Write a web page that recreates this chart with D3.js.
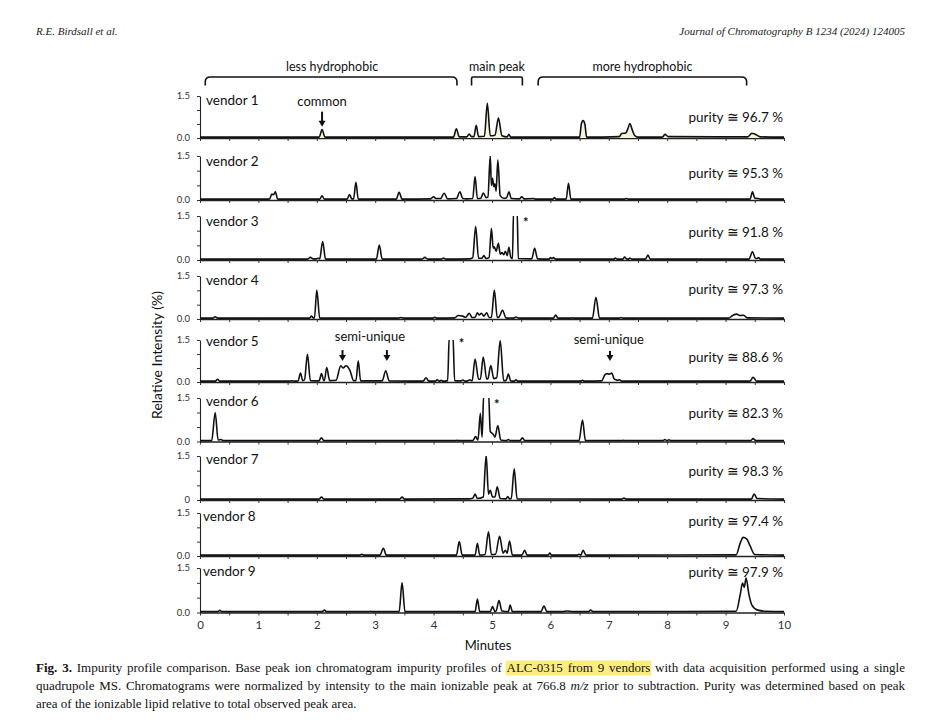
<!DOCTYPE html>
<html><head><meta charset="utf-8">
<script src="https://cdn.jsdelivr.net/npm/d3@7"></script>
<style>body{margin:0;background:#fff} svg{display:block}</style>
</head><body><svg id="c" width="931" height="720"></svg>
<script>
// ---------------- DATA ----------------
const vendors = ["vendor 1","vendor 2","vendor 3","vendor 4","vendor 5","vendor 6","vendor 7","vendor 8","vendor 9"];
const purity = ["96.7","95.3","91.8","97.3","88.6","82.3","98.3","97.4","97.9"];
const xTicks = [0,1,2,3,4,5,6,7,8,9,10];
const yTickVals = [0, 0.5, 1.0, 1.5];
const yBottomLabels = ["0.0","0.0","0.0","0.0","0.0","0.0","0","0.0","0.0"];
const yTopLabel = "1.5";
const regionLabels = ["less hydrophobic","main peak","more hydrophobic"];
const regionStart = [0.09, 4.65, 5.79];
const regionEnd = [4.40, 5.52, 9.36];

// chromatogram vertices [minutes, relative intensity]
const v1 = [[0,0.03],[2.04,0.03],[2.09,0.3],[2.14,0.03],[4.34,0.03],[4.39,0.33],[4.44,0.04],[4.57,0.04],[4.61,0.14],[4.65,0.05],[4.69,0.05],[4.73,0.45],[4.77,0.05],[4.87,0.06],[4.92,1.24],[4.97,0.08],[5.05,0.1],[5.11,0.71],[5.17,0.08],[5.26,0.04],[5.29,0.13],[5.32,0.03],[6.5,0.03],[6.53,0.5],[6.56,0.62],[6.59,0.5],[6.62,0.03],[7.18,0.05],[7.22,0.16],[7.29,0.18],[7.33,0.35],[7.36,0.52],[7.4,0.3],[7.44,0.1],[7.5,0.03],[7.92,0.03],[7.96,0.13],[8.02,0.05],[9.38,0.04],[9.45,0.17],[9.5,0.14],[9.6,0.04],[10,0.03]];
const v2 = [[0,0.03],[1.19,0.03],[1.23,0.2],[1.26,0.18],[1.29,0.28],[1.33,0.03],[2.05,0.03],[2.09,0.14],[2.13,0.03],[2.52,0.03],[2.56,0.19],[2.6,0.04],[2.63,0.04],[2.67,0.6],[2.71,0.03],[3.36,0.03],[3.41,0.26],[3.46,0.03],[3.95,0.04],[4.0,0.11],[4.04,0.05],[4.12,0.05],[4.18,0.23],[4.24,0.04],[4.39,0.05],[4.45,0.28],[4.5,0.05],[4.56,0.04],[4.67,0.05],[4.71,0.8],[4.75,0.05],[4.81,0.06],[4.85,0.24],[4.9,0.08],[4.93,0.1],[4.97,1.51],[4.99,0.5],[5.01,0.74],[5.03,0.45],[5.05,0.55],[5.07,0.3],[5.1,1.36],[5.14,0.15],[5.2,0.06],[5.25,0.08],[5.29,0.28],[5.33,0.05],[5.47,0.04],[5.51,0.11],[5.55,0.04],[5.71,0.05],[5.74,0.03],[6.04,0.03],[6.07,0.08],[6.1,0.03],[6.27,0.03],[6.31,0.57],[6.35,0.03],[7.27,0.03],[7.3,0.05],[7.33,0.03],[9.42,0.03],[9.46,0.28],[9.5,0.06],[9.55,0.05],[9.6,0.03],[10,0.03]];
const v3 = [[0,0.03],[1.84,0.03],[1.89,0.09],[1.94,0.04],[1.99,0.04],[2.02,0.06],[2.05,0.04],[2.1,0.63],[2.15,0.03],[3.02,0.03],[3.07,0.51],[3.12,0.03],[3.8,0.03],[3.85,0.09],[3.9,0.03],[4.13,0.03],[4.17,0.07],[4.21,0.03],[4.62,0.04],[4.67,0.08],[4.72,1.14],[4.77,0.06],[4.83,0.06],[4.86,0.15],[4.9,0.05],[4.95,0.08],[4.99,1.08],[5.02,0.4],[5.04,0.45],[5.07,0.3],[5.11,0.57],[5.14,0.2],[5.17,0.25],[5.2,0.18],[5.23,0.3],[5.26,0.15],[5.29,0.43],[5.32,0.1],[5.35,0.05],[5.37,1.7],[5.43,1.7],[5.45,0.05],[5.68,0.04],[5.73,0.4],[5.78,0.04],[5.98,0.03],[6.0,0.08],[6.03,0.05],[6.05,0.08],[6.09,0.03],[7.09,0.03],[7.11,0.07],[7.14,0.03],[7.24,0.03],[7.27,0.1],[7.31,0.03],[7.34,0.03],[7.36,0.07],[7.39,0.03],[7.63,0.03],[7.67,0.17],[7.71,0.03],[9.4,0.03],[9.46,0.28],[9.51,0.06],[9.54,0.05],[9.56,0.08],[9.6,0.03],[10,0.03]];
const v4 = [[0,0.03],[0.22,0.03],[0.26,0.08],[0.3,0.03],[1.87,0.03],[1.91,0.1],[1.94,0.04],[1.96,0.04],[2.0,1.01],[2.05,0.03],[3.4,0.03],[3.44,0.05],[3.48,0.03],[3.98,0.03],[4.02,0.06],[4.06,0.03],[4.36,0.04],[4.42,0.12],[4.5,0.1],[4.55,0.06],[4.61,0.2],[4.66,0.05],[4.71,0.06],[4.75,0.22],[4.78,0.14],[4.82,0.2],[4.86,0.1],[4.91,0.22],[4.95,0.05],[4.99,0.05],[5.04,1.01],[5.09,0.05],[5.12,0.07],[5.18,0.3],[5.24,0.04],[5.37,0.03],[5.41,0.07],[5.46,0.03],[6.05,0.03],[6.09,0.14],[6.13,0.03],[6.35,0.03],[6.38,0.04],[6.41,0.03],[6.72,0.03],[6.78,0.76],[6.84,0.03],[7.18,0.03],[7.21,0.05],[7.24,0.03],[9.05,0.03],[9.12,0.12],[9.19,0.17],[9.25,0.12],[9.31,0.13],[9.37,0.04],[10,0.03]];
const v5 = [[0,0.03],[0.26,0.03],[0.3,0.1],[0.34,0.03],[1.53,0.03],[1.57,0.04],[1.62,0.03],[1.68,0.04],[1.72,0.32],[1.76,0.05],[1.79,0.08],[1.84,0.99],[1.89,0.05],[2.04,0.04],[2.08,0.3],[2.12,0.05],[2.13,0.05],[2.17,0.52],[2.22,0.05],[2.33,0.06],[2.41,0.58],[2.45,0.5],[2.5,0.58],[2.57,0.4],[2.63,0.05],[2.67,0.05],[2.71,0.76],[2.75,0.04],[3.12,0.04],[3.18,0.4],[3.24,0.04],[3.82,0.03],[3.87,0.15],[3.92,0.03],[4.03,0.03],[4.06,0.08],[4.1,0.03],[4.13,0.06],[4.16,0.03],[4.24,0.05],[4.27,1.7],[4.33,1.7],[4.36,0.05],[4.47,0.04],[4.5,0.07],[4.54,0.03],[4.58,0.04],[4.62,0.08],[4.66,0.04],[4.71,0.82],[4.77,0.1],[4.8,0.1],[4.85,0.89],[4.91,0.1],[4.93,0.12],[4.98,0.59],[5.03,0.12],[5.08,0.15],[5.14,1.48],[5.2,0.05],[5.24,0.05],[5.28,0.28],[5.32,0.04],[5.38,0.03],[5.41,0.08],[5.44,0.03],[6.52,0.03],[6.55,0.06],[6.58,0.03],[6.88,0.04],[6.93,0.25],[6.97,0.3],[7.01,0.28],[7.05,0.32],[7.09,0.12],[7.12,0.08],[7.15,0.06],[7.18,0.08],[7.22,0.03],[9.42,0.03],[9.47,0.17],[9.53,0.03],[10,0.03]];
const v6 = [[0,0.03],[0.2,0.03],[0.26,1.0],[0.31,0.05],[0.36,0.07],[0.4,0.03],[2.04,0.03],[2.08,0.13],[2.12,0.03],[4.37,0.03],[4.4,0.04],[4.43,0.03],[4.67,0.03],[4.72,0.17],[4.76,0.05],[4.8,0.97],[4.83,0.15],[4.86,1.7],[4.94,1.7],[4.97,0.35],[5.02,0.25],[5.05,0.15],[5.1,0.55],[5.15,0.05],[5.25,0.03],[5.28,0.07],[5.31,0.03],[5.48,0.03],[5.52,0.13],[5.56,0.03],[6.49,0.03],[6.55,0.74],[6.6,0.03],[7.22,0.03],[7.25,0.04],[7.28,0.03],[7.93,0.03],[7.96,0.07],[7.99,0.03],[8.03,0.06],[8.06,0.03],[9.43,0.03],[9.47,0.1],[9.52,0.03],[10,0.03]];
const v7 = [[0,0.03],[2.04,0.03],[2.08,0.1],[2.12,0.03],[3.42,0.03],[3.46,0.1],[3.5,0.03],[4.6,0.04],[4.67,0.06],[4.71,0.2],[4.75,0.05],[4.85,0.1],[4.9,1.53],[4.94,0.2],[4.97,0.33],[5.01,0.1],[5.05,0.1],[5.09,0.45],[5.14,0.05],[5.24,0.04],[5.27,0.12],[5.3,0.04],[5.33,0.05],[5.38,1.06],[5.43,0.04],[7.22,0.03],[7.26,0.07],[7.3,0.03],[9.44,0.03],[9.49,0.2],[9.54,0.05],[10,0.03]];
const v8 = [[0,0.03],[2.73,0.03],[2.77,0.06],[2.81,0.03],[3.08,0.03],[3.14,0.27],[3.19,0.03],[4.39,0.03],[4.44,0.5],[4.49,0.03],[4.71,0.03],[4.75,0.44],[4.79,0.03],[4.88,0.05],[4.94,0.84],[4.99,0.05],[5.06,0.06],[5.13,0.69],[5.19,0.1],[5.23,0.2],[5.26,0.1],[5.3,0.52],[5.35,0.03],[5.51,0.03],[5.56,0.2],[5.6,0.03],[5.96,0.03],[5.99,0.1],[6.02,0.03],[6.46,0.03],[6.49,0.06],[6.52,0.03],[6.56,0.2],[6.61,0.03],[9.18,0.04],[9.25,0.45],[9.3,0.65],[9.36,0.6],[9.42,0.35],[9.5,0.05],[10,0.03]];
const v9 = [[0,0.03],[0.3,0.03],[0.34,0.07],[0.38,0.03],[2.09,0.03],[2.13,0.08],[2.17,0.03],[2.89,0.03],[2.92,0.04],[2.95,0.03],[3.41,0.03],[3.46,1.01],[3.51,0.03],[4.71,0.03],[4.75,0.45],[4.79,0.03],[4.97,0.03],[5.01,0.2],[5.05,0.03],[5.07,0.05],[5.12,0.4],[5.17,0.05],[5.28,0.03],[5.31,0.25],[5.35,0.03],[5.84,0.03],[5.89,0.22],[5.94,0.03],[6.2,0.03],[6.29,0.05],[6.38,0.03],[6.65,0.03],[6.69,0.08],[6.73,0.03],[9.18,0.04],[9.25,0.6],[9.29,0.99],[9.32,0.85],[9.35,1.16],[9.4,0.6],[9.45,0.25],[9.55,0.08],[9.7,0.04],[10,0.03]];
const traces = [v1,v2,v3,v4,v5,v6,v7,v8,v9];

// annotations: panel index, minutes, intensity
const arrowPanel = [0, 4, 4, 4];
const arrowTime = [2.09, 2.44, 3.20, 7.02];
const arrowTail = [0.94, 1.14, 1.14, 1.11];
const arrowTip = [0.40, 0.75, 0.75, 0.75];
const noteText = ["common", "semi-unique", "semi-unique"];
const notePanel = [0, 4, 4];
const noteTime = [2.09, 2.91, 7.0];
const noteValue = [1.30, 1.64, 1.52];
const starPanel = [2, 4, 5];
const starTime = [5.58, 4.48, 5.08];
const starValue = [1.43, 1.50, 1.42];

// ---------------- LAYOUT ----------------
const svg = d3.select("#c");
const X0 = 200, X1 = 784;
const panelTop = [96,156,216,276,340,398,456,513,568];
const panelBase = [138,200,260,319,382,441.5,500,556,612.5];
const vendorLabelX = [206,206,206,206,206,206,206,203,203];
const vendorLabelY = [100,161,221.7,280.7,341.7,401.7,459.3,516.7,571.7];
const purityY = [117,173,232,289,357,413,471,521,572];
const FONT = "Lato, 'Open Sans', sans-serif";
const SERIF = "'Liberation Serif', 'DejaVu Serif', serif";

const x = d3.scaleLinear().domain([0,10]).range([X0, X1]);
const ys = panelTop.map((t,i) => d3.scaleLinear().domain([0,1.5]).range([panelBase[i], t]));

// header
svg.append("text").attr("x",36).attr("y",35).attr("font-family",SERIF).attr("font-style","italic")
  .attr("font-size",11).attr("fill","#222").text("R.E. Birdsall et al.");
svg.append("text").attr("x",905).attr("y",35).attr("text-anchor","end").attr("font-family",SERIF).attr("font-style","italic")
  .attr("font-size",11).attr("fill","#222").text("Journal of Chromatography B 1234 (2024) 124005");

// brackets
const defs = svg.append("defs");
regionLabels.forEach((lab,i) => {
  const a = x(regionStart[i]), b = x(regionEnd[i]);
  const yTop = 77, yBot = 85.5, r = i===1 ? 1.5 : 5;
  svg.append("path")
    .attr("d", `M${a},${yBot} L${a},${yTop+r} Q${a},${yTop} ${a+r},${yTop} L${b-r},${yTop} Q${b},${yTop} ${b},${yTop+r} L${b},${yBot}`)
    .attr("fill","none").attr("stroke","#111").attr("stroke-width",1.6);
  svg.append("text").attr("x",(a+b)/2 + (i===0?1:0)).attr("y",70.5).attr("text-anchor","middle")
    .attr("font-family",FONT).attr("font-size",12.5).attr("fill","#111").text(lab);
});

// panels
traces.forEach((tr,i) => {
  const y = ys[i];
  const g = svg.append("g");
  defs.append("clipPath").attr("id","clip"+i).append("rect")
    .attr("x",X0-1).attr("y",panelTop[i]).attr("width",X1-X0+2).attr("height",panelBase[i]-panelTop[i]+4);
  // x axis
  const xa = d3.axisBottom(x).tickValues(d3.range(0,10.01,0.5)).tickSize(3).tickSizeOuter(0)
    .tickFormat(i===8 ? (d => xTicks.includes(d) ? d : "") : "");
  const ax = g.append("g").attr("transform",`translate(0,${panelBase[i]})`).call(xa);
  ax.select(".domain").attr("stroke","#222").attr("stroke-width",1.4);
  ax.selectAll(".tick line").attr("stroke","#333").attr("stroke-width",1);
  ax.selectAll(".tick text").attr("font-family",FONT).attr("font-size",11.5).attr("fill","#333").attr("dy","0.95em");
  // y axis
  const ya = d3.axisLeft(y).tickValues(yTickVals).tickSize(3).tickSizeOuter(0).tickFormat("");
  const ay = g.append("g").attr("transform",`translate(${X0},0)`).call(ya);
  ay.select(".domain").attr("stroke","#222").attr("stroke-width",1.1);
  ay.selectAll(".tick line").attr("stroke","#333").attr("stroke-width",1);
  g.append("text").attr("x",190).attr("y",y(1.5)).attr("dy","0.35em").attr("text-anchor","end")
    .attr("font-family",FONT).attr("font-size",9.5).attr("fill","#333").text(yTopLabel);
  g.append("text").attr("x",190).attr("y",y(0)).attr("dy","0.35em").attr("text-anchor","end")
    .attr("font-family",FONT).attr("font-size",9.5).attr("fill","#333").text(yBottomLabels[i]);
  // trace
  if (i===0) {
    g.append("path").datum(tr).attr("clip-path",`url(#clip${i})`)
      .attr("d", d3.area().curve(d3.curveMonotoneX).x(d=>x(d[0])).y0(y(0)).y1(d=>y(d[1]))(tr))
      .attr("fill","#f6f4de").attr("stroke","none");
  }
  const ln = d3.line().curve(d3.curveMonotoneX).x(d => x(d[0])).y(d => y(d[1]));
  g.append("path").datum(tr).attr("clip-path",`url(#clip${i})`).attr("d", ln)
    .attr("fill","none").attr("stroke","#111").attr("stroke-width",1.6).attr("stroke-linejoin","round");
  // labels
  g.append("text").attr("x",vendorLabelX[i]).attr("y",vendorLabelY[i]).attr("dy","0.35em")
    .attr("font-family",FONT).attr("font-size",13.5).attr("fill","#111").text(vendors[i]);
  g.append("text").attr("x",783).attr("y",purityY[i]).attr("dy","0.35em").attr("text-anchor","end")
    .attr("font-family",FONT).attr("font-size",13.5).attr("fill","#111").text(`purity \u2245 ${purity[i]} %`);
});

// annotations
arrowPanel.forEach((p,k) => {
  const y = ys[p], ax = x(arrowTime[k]);
  const yt = y(arrowTail[k]), yh = y(arrowTip[k]);
  svg.append("line").attr("x1",ax).attr("x2",ax).attr("y1",yt).attr("y2",yh-5)
    .attr("stroke","#111").attr("stroke-width",2);
  svg.append("path").attr("d",`M${ax-3.5},${yh-6} L${ax+3.5},${yh-6} L${ax},${yh} Z`).attr("fill","#111");
});
noteText.forEach((t,k) => {
  svg.append("text").attr("x",x(noteTime[k])).attr("y",ys[notePanel[k]](noteValue[k])).attr("dy","0.35em")
    .attr("text-anchor","middle").attr("font-family",FONT).attr("font-size",13).attr("fill","#111").text(t);
});
starPanel.forEach((p,k) => {
  svg.append("text").attr("x",x(starTime[k])).attr("y",ys[p](starValue[k])).attr("dy","0.65em")
    .attr("text-anchor","middle").attr("font-family",FONT).attr("font-size",13).attr("font-weight","bold")
    .attr("fill","#111").text("*");
});

// axis titles
svg.append("text").attr("transform","translate(162,355) rotate(-90)").attr("text-anchor","middle")
  .attr("font-family",FONT).attr("font-size",14).attr("fill","#111").text("Relative Intensity (%)");
svg.append("text").attr("x",488).attr("y",650).attr("text-anchor","middle")
  .attr("font-family",FONT).attr("font-size",13).attr("fill","#111").text("Minutes");

// caption (justified)
const capLines = [
  {just:true, segs:[{t:"Fig. 3.",b:1},{t:"Impurity profile comparison. Base peak ion chromatogram impurity profiles of"},{t:"ALC-0315 from 9 vendors",h:1},{t:"with data acquisition performed using a single"}]},
  {just:true, segs:[{t:"quadrupole MS. Chromatograms were normalized by intensity to the main ionizable peak at 766.8"},{t:"m/z",i:1},{t:"prior to subtraction. Purity was determined based on peak"}]},
  {just:false, segs:[{t:"area of the ionizable lipid relative to total observed peak area."}]}
];
const capY = [672, 690, 707.5];
const CL = 36, CR = 905;
capLines.forEach((ln,li) => {
  const words = [];
  ln.segs.forEach(s => s.t.split(" ").forEach(w => words.push({w, b:s.b, i:s.i, h:s.h})));
  const hl = svg.append("g"), tg = svg.append("g");
  const els = words.map(o => tg.append("text").attr("y",capY[li]).attr("font-family",SERIF)
    .attr("font-size",13).attr("fill","#111").attr("font-weight",o.b?"bold":"normal")
    .attr("font-style",o.i?"italic":"normal").text(o.w));
  const ws = els.map(e => e.node().getComputedTextLength());
  const total = d3.sum(ws);
  let gap = ln.just ? (CR-CL-total)/(words.length-1) : 3.2;
  if (gap < 2) gap = 2;
  let cx = CL;
  const xs = [];
  els.forEach((e,k) => { e.attr("x",cx); xs.push(cx); cx += ws[k] + gap; });
  const hIdx = words.map((o,k)=>o.h?k:-1).filter(k=>k>=0);
  if (hIdx.length) {
    const a = xs[hIdx[0]] - 1, b = xs[hIdx[hIdx.length-1]] + ws[hIdx[hIdx.length-1]] + 1;
    hl.append("rect").attr("x",a).attr("y",capY[li]-11.5).attr("width",b-a).attr("height",15).attr("fill","#fcee7d");
  }
});
</script>
</body></html>
